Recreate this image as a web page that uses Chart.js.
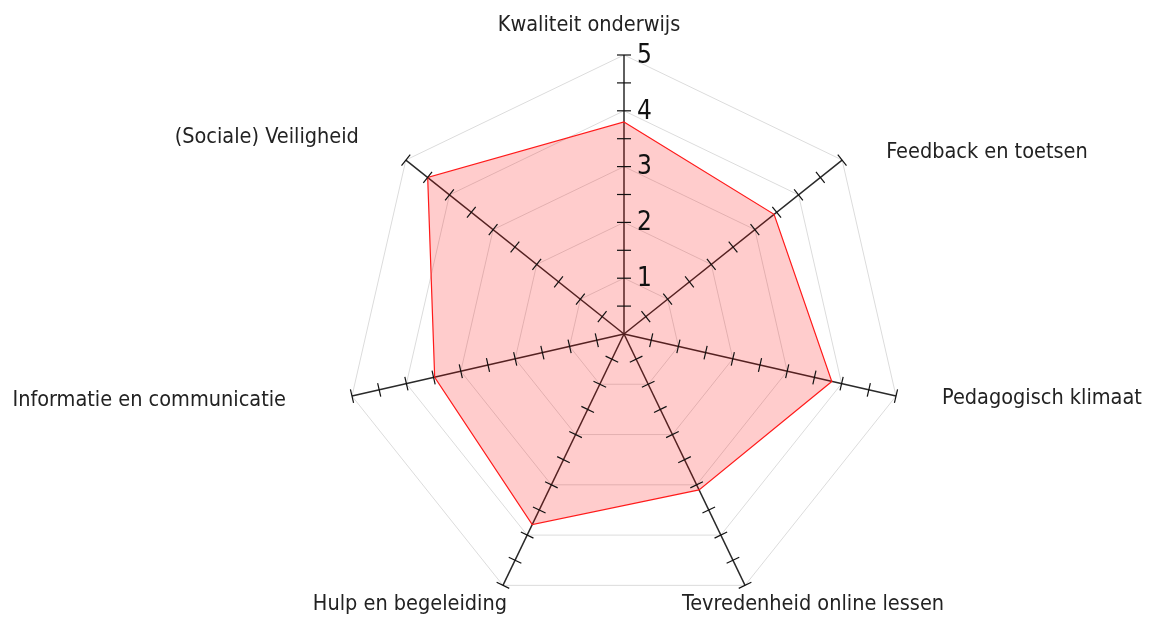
<!DOCTYPE html>
<html>
<head>
<meta charset="utf-8">
<script src="https://cdn.jsdelivr.net/npm/chart.js@4.4.1/dist/chart.umd.min.js"></script>
<style>
  html, body { margin: 0; padding: 0; background: #fff; }
  #wrap { width: 1152px; height: 619px; }
</style>
</head>
<body>
<div id="wrap"><canvas id="radar"></canvas></div>
<script>
const categories = [
  'Kwaliteit onderwijs',
  'Feedback en toetsen',
  'Pedagogisch klimaat',
  'Tevredenheid online lessen',
  'Hulp en begeleiding',
  'Informatie en communicatie',
  '(Sociale) Veiligheid'
];
const scores = [3.8, 3.44, 3.82, 3.1, 3.79, 3.48, 4.5];
const tickLabels = [1, 2, 3, 4, 5];
const minorSteps = [0.5, 1, 1.5, 2, 2.5, 3, 3.5, 4, 4.5, 5];

// plaats van de aslabels t.o.v. het uiteinde van elke as (px)
const labelPlacement = [
  { align: 'center', dx: -35, dy: -24 },
  { align: 'left', dx: 44, dy: -2 },
  { align: 'left', dx: 46, dy: 8 },
  { align: 'center', dx: 68, dy: 25 },
  { align: 'center', dx: -93, dy: 25 },
  { align: 'right', dx: -66, dy: 10 },
  { align: 'right', dx: -47, dy: -17 }
];

const labelFont = '21.5px "DejaVu Sans Condensed", "DejaVu Sans"';

// streepjes op elke as, getallen naast de bovenste as en de aslabels
const axisDecor = {
  id: 'axisDecor',
  afterDraw(chart) {
    const scale = chart.scales.r;
    const ctx = chart.ctx;
    ctx.save();
    ctx.strokeStyle = '#111';
    ctx.lineWidth = 1.2;
    categories.forEach((_, i) => {
      const angle = scale.getIndexAngle(i) - Math.PI / 2;
      const px = -Math.sin(angle), py = Math.cos(angle);
      minorSteps.forEach(v => {
        const p = scale.getPointPositionForValue(i, v);
        ctx.beginPath();
        ctx.moveTo(p.x - px * 7, p.y - py * 7);
        ctx.lineTo(p.x + px * 7, p.y + py * 7);
        ctx.stroke();
      });
    });

    ctx.fillStyle = '#111';
    ctx.font = '26px "DejaVu Sans Condensed", "DejaVu Sans"';
    ctx.textAlign = 'left';
    ctx.textBaseline = 'middle';
    tickLabels.forEach(v => {
      const p = scale.getPointPositionForValue(0, v);
      ctx.fillText(String(v), p.x + 13, p.y + 1);
    });

    ctx.fillStyle = '#222';
    ctx.font = labelFont;
    ctx.textBaseline = 'alphabetic';
    categories.forEach((name, i) => {
      const end = scale.getPointPositionForValue(i, 5);
      const pl = labelPlacement[i];
      ctx.textAlign = pl.align;
      ctx.fillText(name, end.x + pl.dx, end.y + pl.dy);
    });
    ctx.restore();
  }
};

new Chart(document.getElementById('radar'), {
  type: 'radar',
  plugins: [axisDecor],
  data: {
    labels: categories,
    datasets: [{
      data: scores,
      backgroundColor: 'rgba(255, 0, 0, 0.2)',
      borderColor: '#ff1a1a',
      borderWidth: 1.2,
      pointRadius: 0,
      fill: true
    }]
  },
  options: {
    responsive: true,
    maintainAspectRatio: false,
    animation: false,
    layout: { padding: { top: 55, bottom: 6, left: 100, right: 4 } },
    plugins: {
      legend: { display: false },
      tooltip: { enabled: false }
    },
    scales: {
      r: {
        min: 0,
        max: 5,
        ticks: { display: false, stepSize: 1 },
        grid: { color: '#dcdcdc', lineWidth: 1 },
        angleLines: { color: '#2a2a2a', lineWidth: 1.5 },
        pointLabels: { display: false }
      }
    }
  }
});
</script>
</body>
</html>
